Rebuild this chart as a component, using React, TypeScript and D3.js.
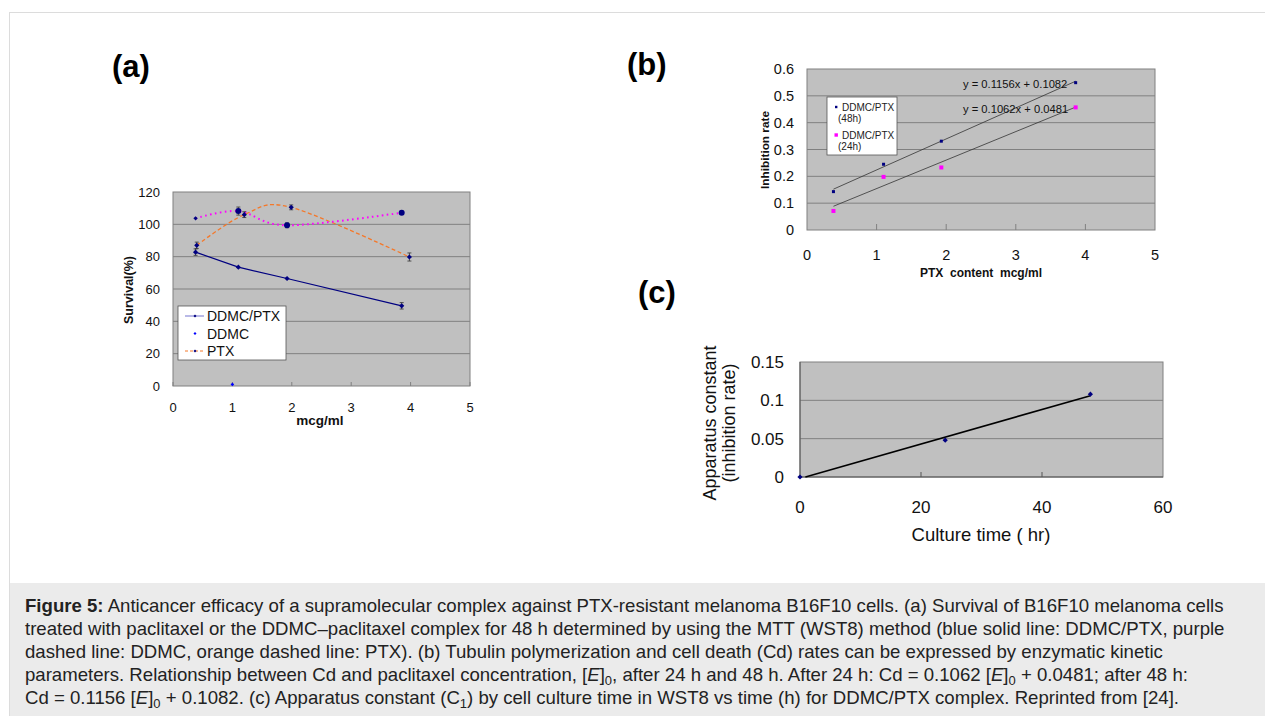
import React from "react";
import * as d3 from "d3";

// ---------- Data ----------
// (a) Survival (%) vs mcg/ml
const aDdmcPtxX = [0.38, 1.1, 1.92, 3.85];
const aDdmcPtxY = [82.8, 73.5, 66.5, 49.6];
const aDdmcPtxErr = [2, 0, 0, 2];
const aDdmcX = [0.38, 1.1, 1.92, 3.85];
const aDdmcY = [103.7, 108.2, 99.4, 107.2];
const aDdmcErr = [0, 2.5, 1.5, 0.8];
const aPtxX = [0.4, 1.2, 1.99, 3.98];
const aPtxY = [87, 106, 110.5, 79.8];
const aPtxErr = [2, 1.8, 1.5, 2.5];
const aStrayX = [1.0];
const aStrayY = [1];
const aLegend = ["DDMC/PTX", "DDMC", "PTX"];
const aYTicks = [0, 20, 40, 60, 80, 100, 120];
const aXTicks = [0, 1, 2, 3, 4, 5];

// (b) Inhibition rate vs PTX content
const bX48 = [0.38, 1.1, 1.93, 3.86];
const bY48 = [0.143, 0.245, 0.331, 0.549];
const bX24 = [0.38, 1.1, 1.93, 3.86];
const bY24 = [0.071, 0.198, 0.233, 0.457];
const bFit48 = { slope: 0.1156, intercept: 0.1082, label: "y = 0.1156x + 0.1082" };
const bFit24 = { slope: 0.1062, intercept: 0.0481, label: "y = 0.1062x + 0.0481" };
const bLegend = [["DDMC/PTX", "(48h)"], ["DDMC/PTX", "(24h)"]];
const bYTicks = [0, 0.1, 0.2, 0.3, 0.4, 0.5, 0.6];
const bXTicks = [0, 1, 2, 3, 4, 5];

// (c) Apparatus constant vs culture time
const cX = [0, 24, 48];
const cY = [0, 0.048, 0.108];
const cYTicks = [0, 0.05, 0.1, 0.15];
const cXTicks = [0, 20, 40, 60];

const NAVY = "#000080";
const MAGENTA = "#ff00ff";
const ORANGE = "#f4782a";
const PLOT_BG = "#c0c0c0";
const GRID = "#808080";
const FONT = "Liberation Sans, Arial, sans-serif";

function fmt(v: number) {
  return String(+v.toFixed(2));
}

function linFit(xs: number[], ys: number[]) {
  const mx = d3.mean(xs) as number;
  const my = d3.mean(ys) as number;
  let num = 0, den = 0;
  xs.forEach((x, i) => { num += (x - mx) * (ys[i] - my); den += (x - mx) * (x - mx); });
  const slope = num / den;
  return { slope, intercept: my - slope * mx };
}

function ChartA() {
  const x = d3.scaleLinear().domain([0, 5]).range([173, 470]);
  const y = d3.scaleLinear().domain([0, 120]).range([386, 192]);
  const smooth = d3.line<number>().curve(d3.curveCardinal.tension(0));
  const straight = d3.line<number>();
  const pts = (xs: number[], ys: number[]) => xs.map((v, i) => [x(v), y(ys[i])] as [number, number]);
  const errBars = (xs: number[], ys: number[], es: number[]) =>
    xs.map((v, i) => es[i] > 0 ? (
      <g key={i} stroke="#333" strokeWidth={0.8}>
        <line x1={x(v)} x2={x(v)} y1={y(ys[i] - es[i])} y2={y(ys[i] + es[i])} />
        <line x1={x(v) - 2} x2={x(v) + 2} y1={y(ys[i] - es[i])} y2={y(ys[i] - es[i])} />
        <line x1={x(v) - 2} x2={x(v) + 2} y1={y(ys[i] + es[i])} y2={y(ys[i] + es[i])} />
      </g>
    ) : null);
  const diamond = (cx: number, cy: number, r: number, key: any, fill = NAVY) => (
    <path key={key} d={`M${cx},${cy - r}L${cx + r},${cy}L${cx},${cy + r}L${cx - r},${cy}Z`} fill={fill} />
  );
  return (
    <g fontFamily={FONT}>
      <rect x={173} y={192} width={297} height={194} fill={PLOT_BG} />
      {aYTicks.slice(1, -1).map(t => (
        <line key={t} x1={173} x2={470} y1={y(t)} y2={y(t)} stroke={GRID} strokeWidth={1} />
      ))}
      <rect x={173} y={192} width={297} height={194} fill="none" stroke={GRID} strokeWidth={1} />
      {aXTicks.map(t => (
        <line key={t} x1={x(t)} x2={x(t)} y1={386} y2={382} stroke={GRID} />
      ))}
      <path d={smooth(pts(aPtxX, aPtxY) as any) || ""} fill="none" stroke={ORANGE} strokeWidth={1.3} strokeDasharray="4,2.5" />
      <path d={smooth(pts(aDdmcX, aDdmcY) as any) || ""} fill="none" stroke={MAGENTA} strokeWidth={2} strokeDasharray="1.6,3.4" />
      <path d={straight(pts(aDdmcPtxX, aDdmcPtxY) as any) || ""} fill="none" stroke={NAVY} strokeWidth={1.2} />
      {errBars(aDdmcPtxX, aDdmcPtxY, aDdmcPtxErr)}
      {errBars(aDdmcX, aDdmcY, aDdmcErr)}
      {errBars(aPtxX, aPtxY, aPtxErr)}
      {aDdmcPtxX.map((v, i) => diamond(x(v), y(aDdmcPtxY[i]), 2.6, "dp" + i))}
      {aDdmcX.map((v, i) => i === 0 ? diamond(x(v), y(aDdmcY[i]), 2.2, "dd" + i) :
        <circle key={"dd" + i} cx={x(v)} cy={y(aDdmcY[i])} r={3} fill={NAVY} />)}
      {aPtxX.map((v, i) => diamond(x(v), y(aPtxY[i]), 2.6, "pt" + i))}
      {aStrayX.map((v, i) => diamond(x(v), y(aStrayY[i]), 1.8, "st" + i, "#0000ff"))}
      {aYTicks.map(t => (
        <text key={t} x={160} y={y(t) + 4.5} textAnchor="end" fontSize={13} fill="#111">{t}</text>
      ))}
      {aXTicks.map(t => (
        <text key={t} x={x(t)} y={412} textAnchor="middle" fontSize={13} fill="#111">{t}</text>
      ))}
      <text x={320} y={425} textAnchor="middle" fontSize={13.5} fontWeight="bold" fill="#111">mcg/ml</text>
      <text transform={`translate(133,290) rotate(-90)`} textAnchor="middle" fontSize={12.5} fontWeight="bold" fill="#111">Survival(%)</text>
      <rect x={178} y={306} width={108} height={54} fill="#fff" stroke="#555" strokeWidth={0.8} />
      {aLegend.map((name, i) => {
        const ly = 316 + i * 17.5;
        return (
          <g key={name}>
            {i === 0 && <line x1={185} x2={204} y1={ly} y2={ly} stroke="#8a8ad8" strokeWidth={1.2} />}
            {i === 2 && <line x1={185} x2={204} y1={ly} y2={ly} stroke={ORANGE} strokeWidth={1} strokeDasharray="3,2" />}
            {diamond(195, ly, 1.5, "lg" + i, i === 1 ? "#0000ff" : NAVY)}
            <text x={207} y={ly + 5} fontSize={14} fill="#111">{name}</text>
          </g>
        );
      })}
    </g>
  );
}

function ChartB() {
  const x = d3.scaleLinear().domain([0, 5]).range([807, 1155]);
  const y = d3.scaleLinear().domain([0, 0.6]).range([230, 69]);
  const fits = [
    { fit: bFit48, xs: bX48, ly: 83.5 },
    { fit: bFit24, xs: bX24, ly: 108.5 },
  ];
  return (
    <g fontFamily={FONT}>
      <rect x={807} y={69} width={348} height={161} fill={PLOT_BG} />
      {bYTicks.slice(1, -1).map(t => (
        <line key={t} x1={807} x2={1155} y1={y(t)} y2={y(t)} stroke={GRID} strokeWidth={1} />
      ))}
      <rect x={807} y={69} width={348} height={161} fill="none" stroke={GRID} strokeWidth={1} />
      {bXTicks.slice(1, -1).map(t => (
        <line key={t} x1={x(t)} x2={x(t)} y1={230} y2={224} stroke={GRID} />
      ))}
      {fits.map(({ fit, xs }, i) => {
        const x0 = d3.min(xs) as number, x1 = d3.max(xs) as number;
        return <line key={i} x1={x(x0)} x2={x(x1)} y1={y(fit.slope * x0 + fit.intercept)} y2={y(fit.slope * x1 + fit.intercept)} stroke="#333" strokeWidth={0.8} />;
      })}
      {fits.map(({ fit, ly }, i) => (
        <text key={"t" + i} x={963} y={ly + 4} fontSize={11.2} fill="#111">{fit.label}</text>
      ))}
      {bX48.map((v, i) => <rect key={"a" + i} x={x(v) - 1.5} y={y(bY48[i]) - 1.5} width={3} height={3} fill={NAVY} />)}
      {bX24.map((v, i) => <rect key={"b" + i} x={x(v) - 2} y={y(bY24[i]) - 2} width={4} height={4} fill={MAGENTA} />)}
      {bYTicks.map(t => (
        <text key={t} x={794} y={y(t) + 5} textAnchor="end" fontSize={14.5} fill="#111">{fmt(t)}</text>
      ))}
      {bXTicks.map(t => (
        <text key={t} x={x(t)} y={260} textAnchor="middle" fontSize={14.5} fill="#111">{t}</text>
      ))}
      <text x={981} y={277} textAnchor="middle" fontSize={12} fontWeight="bold" fill="#111" style={{ whiteSpace: "pre" }}>{"PTX  content  mcg/ml"}</text>
      <text transform={`translate(769,150) rotate(-90)`} textAnchor="middle" fontSize={11.8} fontWeight="bold" fill="#111">Inhibition rate</text>
      <rect x={827} y={97} width={70} height={58} fill="#fff" stroke="#555" strokeWidth={0.8} />
      {bLegend.map((lines, i) => {
        const ly = 107 + i * 28;
        return (
          <g key={i}>
            {i === 0
              ? <rect x={835} y={ly - 1.2} width={2.4} height={2.4} fill={NAVY} />
              : <rect x={834.5} y={ly - 1.7} width={3.4} height={3.4} fill={MAGENTA} />}
            <text x={842} y={ly + 3.5} fontSize={10} fill="#222">{lines[0]}</text>
            <text x={838} y={ly + 15} fontSize={10} fill="#222">{lines[1]}</text>
          </g>
        );
      })}
    </g>
  );
}

function ChartC() {
  const x = d3.scaleLinear().domain([0, 60]).range([800, 1163]);
  const y = d3.scaleLinear().domain([0, 0.15]).range([477, 362]);
  const fit = linFit(cX, cY);
  const xs = d3.max(cX) as number;
  const xStart = Math.max(0, -fit.intercept / fit.slope);
  return (
    <g fontFamily={FONT}>
      <rect x={800} y={362} width={363} height={115} fill={PLOT_BG} />
      {cYTicks.slice(1, -1).map(t => (
        <line key={t} x1={800} x2={1163} y1={y(t)} y2={y(t)} stroke={GRID} strokeWidth={1} />
      ))}
      <rect x={800} y={362} width={363} height={115} fill="none" stroke={GRID} strokeWidth={1} />
      <line x1={800} x2={800} y1={362} y2={477} stroke="#555" />
      <line x1={800} x2={1163} y1={477} y2={477} stroke="#555" />
      {cXTicks.slice(1, -1).map(t => (
        <line key={t} x1={x(t)} x2={x(t)} y1={477} y2={472} stroke="#555" />
      ))}
      <line x1={x(xStart)} x2={x(xs)} y1={y(fit.slope * xStart + fit.intercept)} y2={y(fit.slope * xs + fit.intercept)} stroke="#000" strokeWidth={1.6} />
      {cX.map((v, i) => (
        <path key={i} d={`M${x(v)},${y(cY[i]) - 2.6}L${x(v) + 2.6},${y(cY[i])}L${x(v)},${y(cY[i]) + 2.6}L${x(v) - 2.6},${y(cY[i])}Z`} fill={NAVY} />
      ))}
      {cYTicks.map(t => (
        <text key={t} x={784} y={y(t) + 6} textAnchor="end" fontSize={17} fill="#111">{fmt(t)}</text>
      ))}
      {cXTicks.map(t => (
        <text key={t} x={x(t)} y={513} textAnchor="middle" fontSize={17} fill="#111">{t}</text>
      ))}
      <text x={981} y={541} textAnchor="middle" fontSize={18.5} fill="#111">Culture time ( hr)</text>
      <text transform={`translate(716,423) rotate(-90)`} textAnchor="middle" fontSize={18} fill="#111">Apparatus constant</text>
      <text transform={`translate(735,423) rotate(-90)`} textAnchor="middle" fontSize={18} fill="#111">(inhibition rate)</text>
    </g>
  );
}

function Sub({ children }: { children: any }) {
  return <tspan dy={4} fontSize={13}>{children}</tspan>;
}
function Up({ children }: { children: any }) {
  return <tspan dy={-4}>{children}</tspan>;
}

function Caption() {
  const x0 = 25;
  const base = 612;
  const lh = 23;
  return (
    <g fontFamily={FONT} fontSize={18.6} fill="#222">
      <text x={x0} y={base}><tspan fontWeight="bold">Figure 5:</tspan> Anticancer efficacy of a supramolecular complex against PTX-resistant melanoma B16F10 cells. (a) Survival of B16F10 melanoma cells</text>
      <text x={x0} y={base + lh}>treated with paclitaxel or the DDMC–paclitaxel complex for 48 h determined by using the MTT (WST8) method (blue solid line: DDMC/PTX, purple</text>
      <text x={x0} y={base + 2 * lh}>dashed line: DDMC, orange dashed line: PTX). (b) Tubulin polymerization and cell death (Cd) rates can be expressed by enzymatic kinetic</text>
      <text x={x0} y={base + 3 * lh}>parameters. Relationship between Cd and paclitaxel concentration, [<tspan fontStyle="italic">E</tspan>]<Sub>0</Sub><Up>, after 24 h and 48 h. After 24 h: Cd = 0.1062 [</Up><tspan fontStyle="italic">E</tspan>]<Sub>0</Sub><Up> + 0.0481; after 48 h:</Up></text>
      <text x={x0} y={base + 4 * lh}>Cd = 0.1156 [<tspan fontStyle="italic">E</tspan>]<Sub>0</Sub><Up> + 0.1082. (c) Apparatus constant (C</Up><Sub>1</Sub><Up>) by cell culture time in WST8 vs time (h) for DDMC/PTX complex. Reprinted from [24].</Up></text>
    </g>
  );
}

export default function App() {
  return (
    <svg width={1265} height={716} style={{ position: "absolute", left: 0, top: 0, background: "#fff" }}>
      <rect x={9.5} y={12.5} width={1265} height={720} fill="#fff" stroke="#dcdcdc" />
      <rect x={10} y={583} width={1255} height={133} fill="#ebebeb" />
      <g fontFamily={FONT} fontWeight="bold" fontSize={31} fill="#000">
        <text x={112} y={77}>(a)</text>
        <text x={627} y={75}>(b)</text>
        <text x={638} y={303}>(c)</text>
      </g>
      <ChartA />
      <ChartB />
      <ChartC />
      <Caption />
    </svg>
  );
}
